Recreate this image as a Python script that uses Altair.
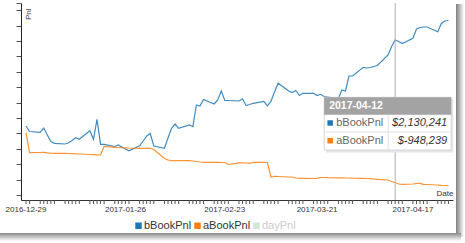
import altair as alt
import pandas as pd

FONT = "Liberation Sans"

# ---- data -------------------------------------------------------------
DATES = pd.bdate_range("2016-12-29", "2017-04-27")  # every weekday

B_BOOK = [
    272200, 153400,
    136100, 229000, 77800, -62600, -101500, -116600, -90700, -41000, 19500, -15100,
    170700, -15100, 416900, -123100, -123100, -170600, -138200, -181400, -224600,
    -263500, -155500, -51800,
    56200, 110200, -159800, -209500, 13000, 222500, 315400, 222500, 293800, 257100,
    725800, 704200, 844600, 747400, 833800, 1028200, 823000, 823000, 812200, 859700,
    715000, 736600, 762500, 805700, 708500, 801400, 1006600, 1194500, 1028200, 995800,
    1039000, 931000, 978500, 978500, 931000, 956900, 909400, 898600, 866200, 1049800,
    1028200, 1352200, 1352200,
    1540100, 1525000, 1535800, 1557400, 1579000, 1805800, 1989400, 2130241, 2097400,
    2054200, 2166500, 2367400, 2399800, 2410600, 2410600, 2309100, 2486200, 2540200,
    2551000,
]
A_BOOK = [
    127500, -304500,
    -300200, -295900, -306700, -315300, -317500, -317500, -321800, -324000, -328300,
    -332600, -343400, -345600, -349900, -354200, -170600, -187900, -192200, -196500,
    -198700, -203000, -209500, -209500,
    -209500, -209500, -235400, -429800, -462200, -477300, -477300, -477300, -477300,
    -483800, -494600, -505400, -511900, -511900, -511900, -516200, -516200, -559400,
    -522700, -522700,
    -527000, -533500, -511900, -511900, -516200, -829400, -814300, -818600, -829400,
    -829400, -851000, -857500, -859600, -861800, -857500, -840200, -840200, -844500,
    -846700, -846700, -851000, -851000, -855300,
    -857500, -861800, -866100, -872600, -879100, -894200, -926600, -948239, -980600,
    -987100, -980600, -969800, -965500, -987100, -991400, -1002200, -1008700, -1013000,
    -1017300,
]

SERIES = ["bBookPnl", "aBookPnl", "dayPnl"]
SERIES_COLORS = ["#1f77b4", "#ff7f0e", "#cfe8cf"]
LABEL_DATES = ["2016-12-29", "2017-01-26", "2017-02-23", "2017-03-21", "2017-04-17"]
Y_TICKS = [-1218000, -885600, -553000, -220300, 112300, 445000, 777600, 1110200,
           1442900, 1775500, 2108200, 2440800, 2773400, 2928900]
Y_DOMAIN = [-1326239, 2928961]
TIP_DATE = "2017-04-12"

# ---- frames -----------------------------------------------------------
df = pd.DataFrame({"date": DATES, "bBookPnl": B_BOOK, "aBookPnl": A_BOOK})
long = df.melt("date", var_name="series", value_name="pnl")
ticks_df = pd.DataFrame({"date": DATES})
labels_df = pd.DataFrame({"date": pd.to_datetime(LABEL_DATES), "label": LABEL_DATES})

date_strs = list(DATES.strftime("%Y-%m-%d"))
ti = date_strs.index(TIP_DATE)
tip = pd.DataFrame({
    "date": [pd.Timestamp(TIP_DATE)] * 2,
    "series": ["bBookPnl", "aBookPnl"],
    "val": [f"${B_BOOK[ti]:,}", f"${A_BOOK[ti]:,}"],
})
tip_one = tip.iloc[:1]
dummy = pd.DataFrame({"a": [0]})

# ---- scales / axes ----------------------------------------------------
xscale = alt.Scale(domain=[alt.DateTime(year=2016, month=12, date=27, hours=14),
                           alt.DateTime(year=2017, month=4, date=28, hours=7)])
yscale = alt.Scale(domain=Y_DOMAIN, nice=False, zero=False)

xaxis = alt.Axis(
    ticks=False, labels=False, domainColor="#333", grid=False,
    title="Date", titleFont=FONT, titleFontSize=8, titleFontWeight="normal",
    titleColor="#333", titleX=432, titleY=-3, titleAlign="right", titleBaseline="bottom",
)
yaxis = alt.Axis(
    values=Y_TICKS, labels=False, tickSize=5, tickColor="#555", domainColor="#222",
    grid=False, title="Pnl", titleFont=FONT, titleFontSize=8, titleFontWeight="normal",
    titleColor="#444", titleX=7.5, titleY=5, titleAngle=270, titleAlign="right",
    titleBaseline="middle",
)

# ---- layers -----------------------------------------------------------
grad_h = alt.LinearGradient(gradient="linear", x1=0, x2=1, y1=0, y2=0,
                            stops=[alt.GradientStop(offset=0, color="#7d7d7d"),
                                   alt.GradientStop(offset=1, color="#ffffff")])
grad_v = alt.LinearGradient(gradient="linear", x1=0, x2=0, y1=0, y2=1,
                            stops=[alt.GradientStop(offset=0, color="#8a8a8a"),
                                   alt.GradientStop(offset=1, color="#ffffff")])
shadow_r = alt.Chart(dummy).mark_rect(color=grad_h).encode(
    x=alt.value(435), x2=alt.value(443), y=alt.value(1), y2=alt.value(234))
shadow_b = alt.Chart(dummy).mark_rect(color=grad_v).encode(
    x=alt.value(-21), x2=alt.value(440), y=alt.value(230), y2=alt.value(238))

lines = alt.Chart(long).mark_line(strokeWidth=1.2, opacity=0.85).encode(
    x=alt.X("date:T", scale=xscale, axis=xaxis),
    y=alt.Y("pnl:Q", scale=yscale, axis=yaxis),
    stroke=alt.Stroke("series:N", scale=alt.Scale(domain=SERIES[:2], range=SERIES_COLORS[:2]),
                      legend=None),
)

xticks = alt.Chart(ticks_df).mark_rule(color="#555", strokeWidth=1).encode(
    x="date:T", y=alt.value(197), y2=alt.value(201))
xlabels = alt.Chart(labels_df).mark_text(
    baseline="middle", font=FONT, fontSize=8, color="#333").encode(
    x="date:T", y=alt.value(207), text="label:N")

guide = alt.Chart(tip_one).mark_rule(color="#b0b0b0", strokeWidth=1).encode(x="date:T")

L, R = -71, 56
box_shadow = alt.Chart(tip_one).mark_rect(color="#e6e6e6", xOffset=L + 2, x2Offset=R + 2).encode(
    x="date:T", x2="date:T", y=alt.value(96), y2=alt.value(149.5))
box = alt.Chart(tip_one).mark_rect(fill="white", stroke="#d4d4d4", strokeWidth=1,
                                   xOffset=L, x2Offset=R).encode(
    x="date:T", x2="date:T", y=alt.value(94.3), y2=alt.value(147))
header = alt.Chart(tip_one).mark_rect(color="#a3a3a3", xOffset=L, x2Offset=R).encode(
    x="date:T", x2="date:T", y=alt.value(94.3), y2=alt.value(111.7))
header_txt = alt.Chart(tip_one).mark_text(
    align="left", baseline="middle", dx=-66, font=FONT, fontSize=10.5,
    fontWeight="bold", color="white").encode(
    x="date:T", y=alt.value(103.3), text=alt.value(TIP_DATE))
sep = alt.Chart(tip_one).mark_rule(color="#e2e2e2", xOffset=L, x2Offset=R).encode(
    x="date:T", x2="date:T", y=alt.value(129))
divider = alt.Chart(tip_one).mark_rule(color="#e2e2e2", xOffset=-7).encode(
    x="date:T", y=alt.value(111.7), y2=alt.value(147))

legend = alt.Legend(
    orient="none", direction="horizontal", legendX=112, legendY=217, title=None,
    symbolType="square", symbolSize=42, symbolStrokeWidth=0, labelFont=FONT,
    labelFontSize=11, labelOffset=0, columnPadding=0,
    labelColor={"expr": "datum.value == 'dayPnl' ? '#cccccc' : '#333333'"},
)
fill_scale = alt.Scale(domain=SERIES, range=SERIES_COLORS)

rows = []
for name, ypix in [("bBookPnl", 120), ("aBookPnl", 137.7)]:
    base = alt.Chart(tip).transform_filter(alt.datum.series == name)
    sq = base.mark_square(size=30, opacity=1, xOffset=-65).encode(
        x="date:T", y=alt.value(ypix),
        fill=alt.Fill("series:N", scale=fill_scale, legend=legend))
    nm = base.mark_text(align="left", baseline="middle", dx=-59, font=FONT,
                        fontSize=11, color="#666").encode(
        x="date:T", y=alt.value(ypix), text="series:N")
    vl = base.mark_text(align="right", baseline="middle", dx=52, font=FONT,
                        fontSize=11, fontStyle="italic", color="#333").encode(
        x="date:T", y=alt.value(ypix), text="val:N")
    rows += [sq, nm, vl]

chart = alt.layer(
    shadow_r, shadow_b, lines, xticks, xlabels, guide, box_shadow, box, header,
    header_txt, sep, divider, *rows
).properties(
    width=432, height=197,
    padding={"left": 21, "top": 3, "right": 12, "bottom": 43},
    autosize=alt.AutoSizeParams(type="none"),
    background="white",
).configure_view(stroke=None)

chart.save("out.html", embed_options={"renderer": "svg", "actions": False})
